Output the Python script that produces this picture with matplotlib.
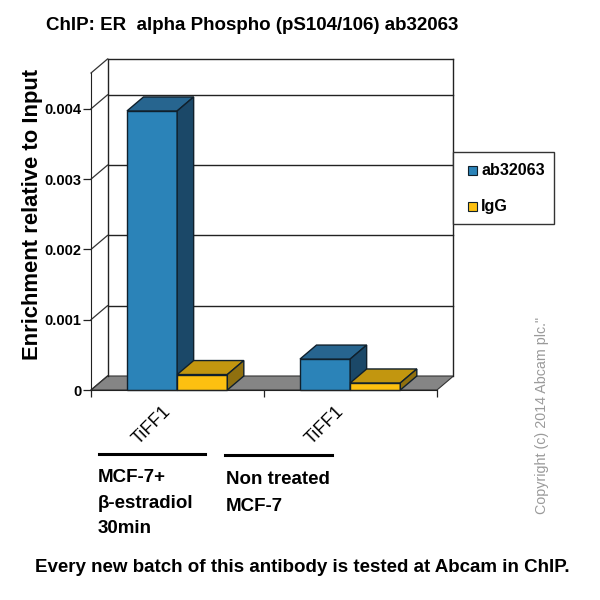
import matplotlib
matplotlib.use('Agg')
import matplotlib.pyplot as plt
from matplotlib.lines import Line2D
from matplotlib.patches import Polygon, Rectangle
from matplotlib.transforms import Affine2D, IdentityTransform

plt.rcParams['font.family'] = ['Liberation Sans', 'DejaVu Sans']

categories = ['TiFF1', 'TiFF1']
ab32063 = [0.00397, 0.00044]
igg = [0.00022, 0.00010]
yticks = [0, 0.001, 0.002, 0.003, 0.004]
ytick_labels = ['0', '0.001', '0.002', '0.003', '0.004']
series_names = ['ab32063', 'IgG']

BLUE = ('#2b83b8', '#27658f', '#1b4868')
YELLOW = ('#fdc010', '#c2960f', '#90700f')
EDGE = '#10202c'
LINE = '#222222'
BAR_W = 0.29
GAP = 0.208
DEPTH = (16.5, 14)


def px(x, y):
    # reference pixel to figure fraction
    return x / 600, 1 - y / 600


fig = plt.figure(figsize=(6, 6), dpi=100)
l, b = px(91, 390)
ax = fig.add_axes([l, b, 346 / 600, 317 / 600])
ax.set_xlim(0, len(categories))
ax.set_ylim(0, 0.00451)
ax.patch.set_visible(False)
for s in ['top', 'right']:
    ax.spines[s].set_visible(False)
for s in ['left', 'bottom']:
    ax.spines[s].set_color(LINE)
    ax.spines[s].set_zorder(4)

back = ax.transData + Affine2D().translate(*DEPTH)
xmax = len(categories)
ymax = ax.get_ylim()[1]


def add_screen_poly(pts, face, edge, zorder, lw=1.0):
    ax.add_artist(Polygon(pts, closed=True, transform=IdentityTransform(), facecolor=face,
                          edgecolor=edge, linewidth=lw, zorder=zorder, clip_on=False))


# floor
p0 = ax.transData.transform((0, 0))
p1 = ax.transData.transform((xmax, 0))
add_screen_poly([p0, p1, p1 + DEPTH, p0 + DEPTH], '#858585', '#333333', 1, 0.8)

# back wall and left wall lines
for v in yticks[1:] + [ymax]:
    ax.plot([0, xmax], [v, v], transform=back, color=LINE, lw=1.0, clip_on=False, zorder=1.5)
for v in yticks + [ymax]:
    a = ax.transData.transform((0, v))
    ax.add_artist(Line2D([a[0], a[0] + DEPTH[0]], [a[1], a[1] + DEPTH[1]],
                         transform=IdentityTransform(), color='#333333', lw=0.9,
                         zorder=1.5, clip_on=False))
ax.plot([0, 0], [0, ymax], transform=back, color=LINE, lw=1.0, clip_on=False, zorder=1.5)
ax.plot([xmax, xmax], [0, ymax], transform=back, color=LINE, lw=1.0, clip_on=False, zorder=1.5)


def draw_bar(x0, val, cols):
    ax.bar(x0, val, BAR_W, align='edge', color=cols[0], edgecolor=EDGE, linewidth=1.0,
           zorder=3, clip_on=False)
    pa = ax.transData.transform((x0, val))
    pb = ax.transData.transform((x0 + BAR_W, val))
    pc = ax.transData.transform((x0 + BAR_W, 0))
    add_screen_poly([pa, pb, pb + DEPTH, pa + DEPTH], cols[1], EDGE, 3)
    add_screen_poly([pb, pc, pc + DEPTH, pb + DEPTH], cols[2], EDGE, 3)


for i in range(len(categories)):
    draw_bar(i + GAP, ab32063[i], BLUE)
    draw_bar(i + GAP + BAR_W, igg[i], YELLOW)

ax.set_yticks(yticks)
ax.set_yticklabels(ytick_labels, fontsize=10.5, fontweight='bold')
ax.set_xticks(range(xmax + 1))
ax.set_xticklabels([])
ax.tick_params(axis='y', length=6, width=0.9, color=LINE, pad=1)
ax.tick_params(axis='x', length=5, width=0.9, color=LINE)

for i, name in enumerate(categories):
    xp = ax.transData.transform((i + 0.5, 0))[0] - 26
    fig.text(xp / 600, px(0, 425)[1], name, rotation=45, ha='center', va='center', fontsize=13)

fig.text(*px(33, 214), 'Enrichment relative to Input', rotation=90, ha='center', va='center',
         fontsize=15.8, fontweight='bold')
fig.text(*px(46, 25), 'ChIP: ER  alpha Phospho (pS104/106) ab32063', ha='left', va='center',
         fontsize=13.5, fontweight='bold')
fig.text(*px(35, 568), 'Every new batch of this antibody is tested at Abcam in ChIP.', ha='left',
         va='center', fontsize=13.5, fontweight='bold')
fig.text(*px(98, 503), 'MCF-7+\n\u03b2-estradiol\n30min', ha='left', va='center', fontsize=13.5,
         fontweight='bold', linespacing=1.65)
fig.text(*px(226, 493), 'Non treated\nMCF-7', ha='left', va='center', fontsize=13.5,
         fontweight='bold', linespacing=1.7)
fig.text(*px(542, 415), 'Copyright (c) 2014 Abcam plc."', rotation=90, ha='center', va='center',
         fontsize=10.3, color='#9a9a9a')

for x0, x1, y in [(99, 205, 454), (225, 332, 455)]:
    fig.add_artist(Line2D([x0 / 600, x1 / 600], [px(0, y)[1]] * 2, color='black', lw=2.2))

# legend box
lx, ly = px(453, 224)
fig.add_artist(Rectangle((lx, ly), 101 / 600, 72 / 600, transform=fig.transFigure,
                         facecolor='white', edgecolor='#333333', linewidth=1.0, zorder=5))
for name, col, y in zip(series_names, [BLUE[0], YELLOW[0]], [171, 207]):
    kx, ky = px(468, y + 4)
    fig.add_artist(Rectangle((kx, ky), 9 / 600, 9 / 600, transform=fig.transFigure,
                             facecolor=col, edgecolor=EDGE, linewidth=0.8, zorder=6))
    fig.text(*px(481, y), name, ha='left', va='center', fontsize=11.6, fontweight='bold', zorder=6)

fig.savefig('out.png', dpi=100)
